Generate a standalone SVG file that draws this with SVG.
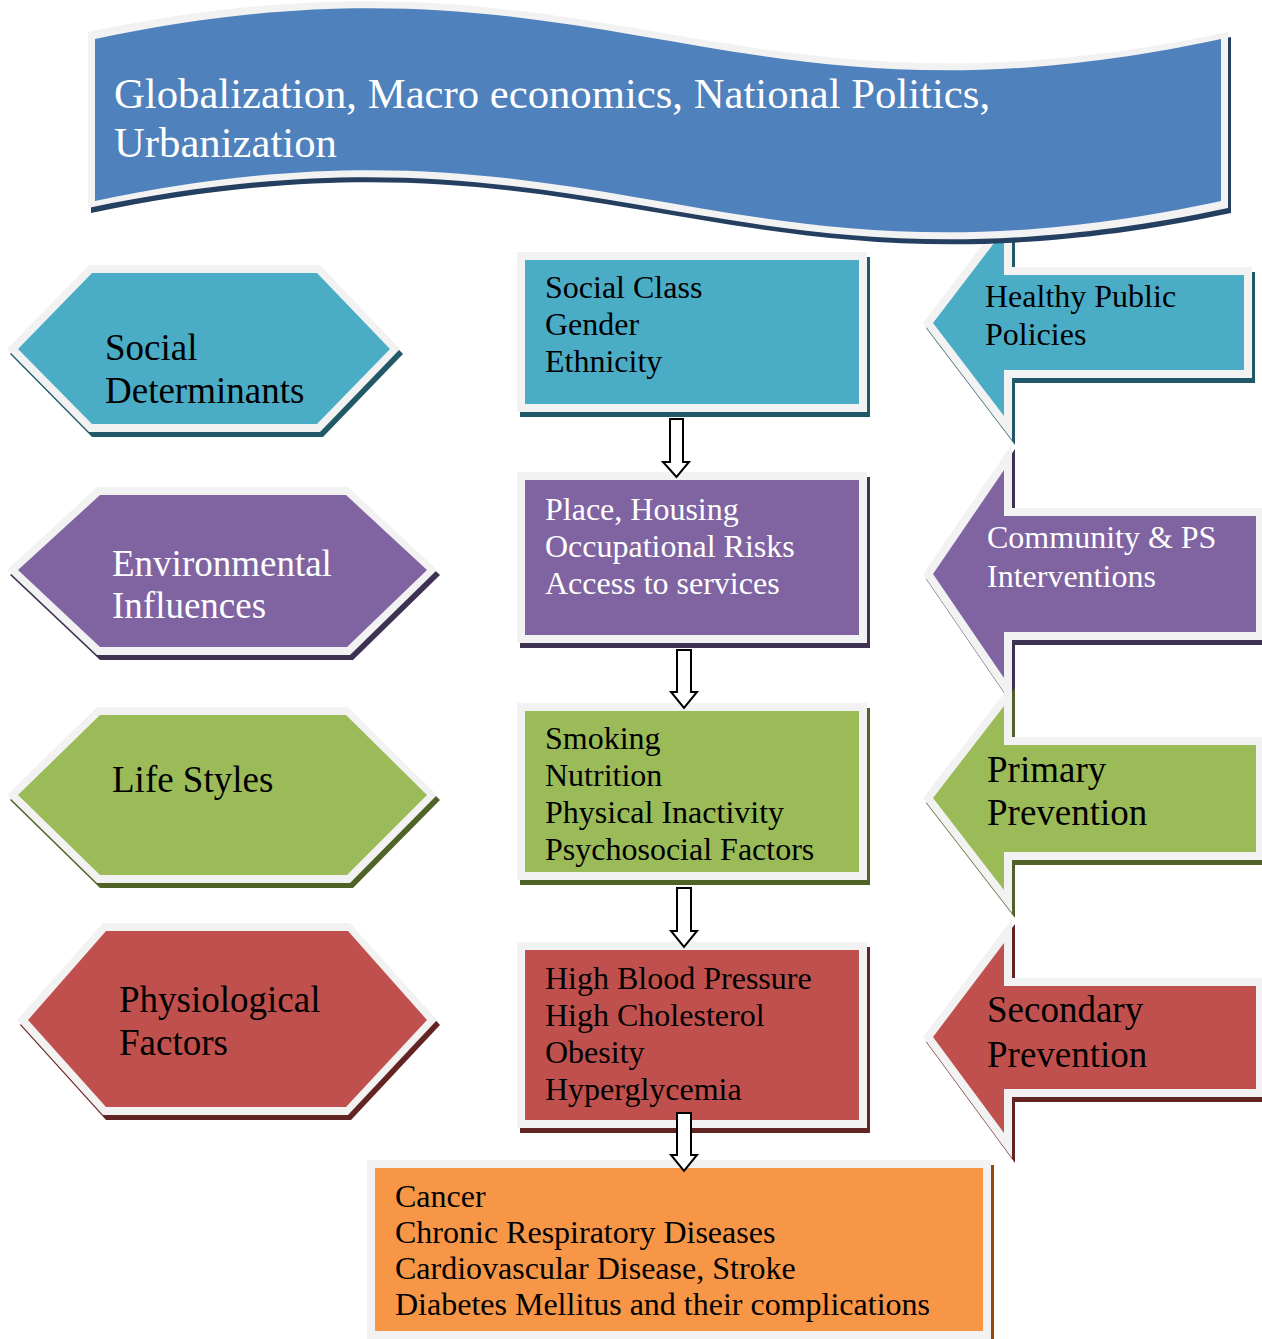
<svg xmlns="http://www.w3.org/2000/svg" width="1262" height="1339" viewBox="0 0 1262 1339">
<style>
.lt{fill:#F2F2F2}
.teal{fill:#4BACC6}.teal-d{fill:#215968}
.purp{fill:#8064A2}.purp-d{fill:#3F3151}
.grn{fill:#9BBB59}.grn-d{fill:#4F6228}
.red{fill:#C0504D}.red-d{fill:#632523}
.org{fill:#F79646}.org-d{fill:#984807}
.blu{fill:#4F81BD}.blu-d{fill:#243F60}
text{font-family:"Liberation Serif","Times New Roman",serif}
.t37{font-size:37px}
.t32{font-size:32px}
.t42{font-size:42.7px}
.k{fill:#000}
.w{fill:#fff}
.conn{fill:#fff;stroke:#000;stroke-width:2;stroke-linejoin:miter}
</style>
<rect width="1262" height="1339" fill="#fff"/>

<!-- Left hexagons -->
<g id="hex-social">
<polygon class="teal-d" transform="translate(3,5)" points="7,349 89,265 320,265 400,349 320,432 89,432"/>
<polygon class="lt" points="7,349 89,265 320,265 400,349 320,432 89,432"/>
<polygon class="teal" points="18,349 92,273 317,273 390,349 317,424 92,424"/>
<text class="t37 k" x="105" y="360">Social</text>
<text class="t37 k" x="105" y="403">Determinants</text>
</g>
<g id="hex-env">
<polygon class="purp-d" transform="translate(3,5)" points="7,570 97,487 348,487 437,570 350,655 97,655"/>
<polygon class="lt" points="7,570 97,487 348,487 437,570 350,655 97,655"/>
<polygon class="purp" points="18,570 100,495 346,495 427,570 347,647 100,647"/>
<text class="t37 w" x="112" y="576">Environmental</text>
<text class="t37 w" x="112" y="618">Influences</text>
</g>
<g id="hex-life">
<polygon class="grn-d" transform="translate(3,5)" points="7,795 97,707 348,707 437,795 350,883 97,883"/>
<polygon class="lt" points="7,795 97,707 348,707 437,795 350,883 97,883"/>
<polygon class="grn" points="18,795 100,715 346,715 427,795 347,875 100,875"/>
<text class="t37 k" x="112" y="792">Life Styles</text>
</g>
<g id="hex-phys">
<polygon class="red-d" transform="translate(3,5)" points="17,1020 103,923 350,923 437,1020 348,1115 103,1115"/>
<polygon class="lt" points="17,1020 103,923 350,923 437,1020 348,1115 103,1115"/>
<polygon class="red" points="28,1020 106,931 348,931 427,1020 346,1107 106,1107"/>
<text class="t37 k" x="119" y="1012">Physiological</text>
<text class="t37 k" x="119" y="1055">Factors</text>
</g>

<!-- Center boxes -->
<g id="box-social">
<rect class="teal-d" x="520" y="257" width="350" height="160"/>
<rect class="lt" x="517" y="252" width="350" height="160"/>
<rect class="teal" x="525" y="260" width="334" height="144"/>
<text class="t32 k" x="545" y="298">Social Class</text>
<text class="t32 k" x="545" y="335">Gender</text>
<text class="t32 k" x="545" y="372">Ethnicity</text>
</g>
<g id="box-env">
<rect class="purp-d" x="520" y="477" width="350" height="171"/>
<rect class="lt" x="517" y="472" width="350" height="171"/>
<rect class="purp" x="525" y="480" width="334" height="155"/>
<text class="t32 w" x="545" y="520">Place, Housing</text>
<text class="t32 w" x="545" y="557">Occupational Risks</text>
<text class="t32 w" x="545" y="594">Access to services</text>
</g>
<g id="box-life">
<rect class="grn-d" x="520" y="708" width="350" height="177"/>
<rect class="lt" x="517" y="703" width="350" height="177"/>
<rect class="grn" x="525" y="711" width="334" height="161"/>
<text class="t32 k" x="545" y="749">Smoking</text>
<text class="t32 k" x="545" y="786">Nutrition</text>
<text class="t32 k" x="545" y="823">Physical Inactivity</text>
<text class="t32 k" x="545" y="860">Psychosocial Factors</text>
</g>
<g id="box-phys">
<rect class="red-d" x="520" y="947" width="350" height="186"/>
<rect class="lt" x="517" y="942" width="350" height="186"/>
<rect class="red" x="525" y="950" width="334" height="170"/>
<text class="t32 k" x="545" y="989">High Blood Pressure</text>
<text class="t32 k" x="545" y="1026">High Cholesterol</text>
<text class="t32 k" x="545" y="1063">Obesity</text>
<text class="t32 k" x="545" y="1100">Hyperglycemia</text>
</g>
<g id="box-disease">
<rect class="org-d" x="370" y="1165" width="624" height="190"/>
<rect class="lt" x="367" y="1160" width="624" height="190"/>
<rect class="org" x="375" y="1168" width="608" height="163"/>
<text class="t32 k" x="395" y="1207">Cancer</text>
<text class="t32 k" x="395" y="1243">Chronic Respiratory Diseases</text>
<text class="t32 k" x="395" y="1279">Cardiovascular Disease, Stroke</text>
<text class="t32 k" x="395" y="1315">Diabetes Mellitus and their complications</text>
</g>

<!-- Right block arrows -->
<g id="arrow-policies">
<polygon class="teal-d" transform="translate(3,5)" points="923,323 1012,206 1012,267 1252,267 1252,378 1012,378 1012,440"/>
<polygon class="lt" points="923,323 1012,206 1012,267 1252,267 1252,378 1012,378 1012,440"/>
<polygon class="teal" points="933,323 1004,230 1004,275 1244,275 1244,370 1004,370 1004,416"/>
<text class="t32 k" x="985" y="307">Healthy Public</text>
<text class="t32 k" x="985" y="345">Policies</text>
</g>
<g id="arrow-community">
<polygon class="purp-d" transform="translate(3,5)" points="923,574 1012,444 1012,508 1266,508 1266,640 1012,640 1012,704"/>
<polygon class="lt" points="923,574 1012,444 1012,508 1266,508 1266,640 1012,640 1012,704"/>
<polygon class="purp" points="933,574 1004,470 1004,516 1256,516 1256,632 1004,632 1004,678"/>
<text class="t32 w" x="987" y="548">Community &amp; PS</text>
<text class="t32 w" x="987" y="587">Interventions</text>
</g>
<g id="arrow-primary">
<polygon class="grn-d" transform="translate(3,5)" points="923,798 1012,683 1012,737 1266,737 1266,860 1012,860 1012,913"/>
<polygon class="lt" points="923,798 1012,683 1012,737 1266,737 1266,860 1012,860 1012,913"/>
<polygon class="grn" points="933,798 1004,706 1004,745 1256,745 1256,852 1004,852 1004,890"/>
<text class="t37 k" x="987" y="782">Primary</text>
<text class="t37 k" x="987" y="825">Prevention</text>
</g>
<g id="arrow-secondary">
<polygon class="red-d" transform="translate(3,5)" points="923,1037 1012,919 1012,978 1266,978 1266,1097 1012,1097 1012,1158"/>
<polygon class="lt" points="923,1037 1012,919 1012,978 1266,978 1266,1097 1012,1097 1012,1158"/>
<polygon class="red" points="933,1037 1004,943 1004,986 1256,986 1256,1089 1004,1089 1004,1133"/>
<text class="t37 k" x="987" y="1022">Secondary</text>
<text class="t37 k" x="987" y="1067">Prevention</text>
</g>

<!-- Top banner -->
<g id="banner">
<path class="blu-d" transform="translate(3,5)" d="M88,32 C600,-75 720,140 1228,32 L1228,208 C720,316 600,101 88,208 Z"/>
<path class="lt" d="M88,32 C600,-75 720,140 1228,32 L1228,208 C720,316 600,101 88,208 Z"/>
<path class="blu" d="M95,39 C600,-68 720,147 1221,39 L1221,201 C720,309 600,94 95,201 Z"/>
<text class="t42 w" x="114" y="108">Globalization, Macro economics, National Politics,</text>
<text class="t42 w" x="114" y="157">Urbanization</text>
</g>

<!-- Connectors -->
<g id="connectors">
<polygon class="conn" points="670,419 683,419 683,462 689,462 676.5,477 663,462 670,462"/>
<polygon class="conn" points="677,650 691,650 691,692 697,692 684,708 671,692 677,692"/>
<polygon class="conn" points="677,888 691,888 691,931 697,931 684,947 671,931 677,931"/>
<polygon class="conn" points="677,1113 691,1113 691,1155 697,1155 684,1171 671,1155 677,1155"/>
</g>
</svg>
